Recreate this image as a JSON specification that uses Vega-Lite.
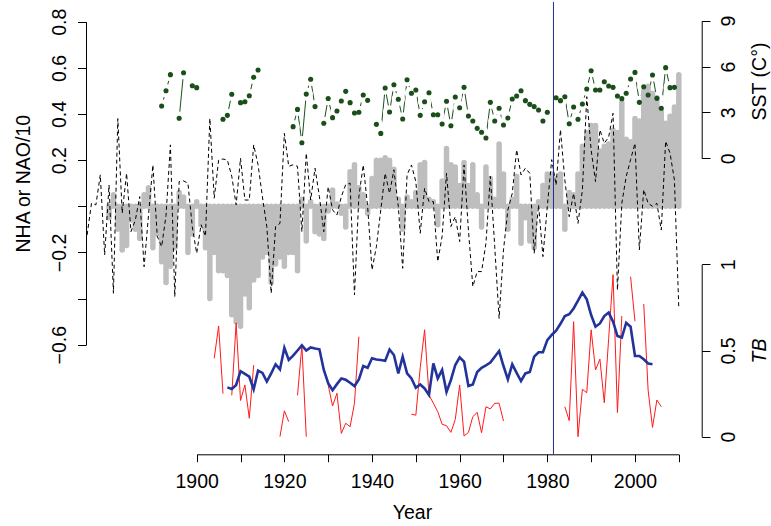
{
  "$schema": "https://vega.github.io/schema/vega-lite/v6.json",
  "width": 615.7,
  "height": 452.3,
  "autosize": {"type": "none"},
  "padding": {"left": 86, "top": 2, "right": 69.3, "bottom": 71.7},
  "background": "white",
  "config": {
    "view": {"stroke": null},
    "font": "Liberation Sans",
    "axis": {"grid": false, "domainColor": "black", "tickColor": "black", "labelColor": "black", "titleColor": "black", "labelFont": "Liberation Sans", "titleFont": "Liberation Sans", "labelFontSize": 19.5, "titleFontSize": 19.5, "titleFontWeight": "normal", "domainWidth": 1, "tickWidth": 1, "labelFlush": false, "labelOverlap": false}
  },
  "datasets": {
    "nha": [
      {"year": 1875, "nha": null, "nao": -0.124}, {"year": 1876, "nha": null, "nao": 0.013}, {"year": 1877, "nha": null, "nao": 0.006}, {"year": 1878, "nha": null, "nao": 0.136}, {"year": 1879, "nha": null, "nao": -0.211},
      {"year": 1880, "nha": -0.05, "nao": 0.092}, {"year": 1881, "nha": 0.05, "nao": -0.377}, {"year": 1882, "nha": -0.10, "nao": 0.38}, {"year": 1883, "nha": -0.19, "nao": -0.03}, {"year": 1884, "nha": -0.17, "nao": 0.143},
      {"year": 1885, "nha": -0.06, "nao": -0.11}, {"year": 1886, "nha": -0.10, "nao": -0.06}, {"year": 1887, "nha": -0.14, "nao": 0.042}, {"year": 1888, "nha": 0.05, "nao": -0.262}, {"year": 1889, "nha": 0.08, "nao": -0.04},
      {"year": 1890, "nha": -0.18, "nao": 0.179}, {"year": 1891, "nha": -0.12, "nao": -0.13}, {"year": 1892, "nha": -0.24, "nao": -0.175}, {"year": 1893, "nha": -0.33, "nao": -0.04}, {"year": 1894, "nha": -0.26, "nao": 0.266},
      {"year": 1895, "nha": -0.18, "nao": -0.392}, {"year": 1896, "nha": 0.06, "nao": 0.107}, {"year": 1897, "nha": 0.04, "nao": 0.11}, {"year": 1898, "nha": -0.20, "nao": 0.10}, {"year": 1899, "nha": -0.12, "nao": -0.09},
      {"year": 1900, "nha": 0.02, "nao": -0.204}, {"year": 1901, "nha": -0.08, "nao": -0.08}, {"year": 1902, "nha": -0.18, "nao": -0.13}, {"year": 1903, "nha": -0.40, "nao": 0.381}, {"year": 1904, "nha": -0.20, "nao": 0.035},
      {"year": 1905, "nha": -0.28, "nao": 0.20}, {"year": 1906, "nha": -0.28, "nao": 0.205}, {"year": 1907, "nha": -0.30, "nao": 0.20}, {"year": 1908, "nha": -0.47, "nao": 0.13}, {"year": 1909, "nha": -0.50, "nao": 0.006},
      {"year": 1910, "nha": -0.52, "nao": 0.208}, {"year": 1911, "nha": -0.38, "nao": 0.027}, {"year": 1912, "nha": -0.44, "nao": 0.027}, {"year": 1913, "nha": -0.32, "nao": 0.266}, {"year": 1914, "nha": -0.30, "nao": 0.18},
      {"year": 1915, "nha": -0.22, "nao": 0.04}, {"year": 1916, "nha": -0.20, "nao": -0.088}, {"year": 1917, "nha": -0.33, "nao": -0.377}, {"year": 1918, "nha": -0.25, "nao": -0.088}, {"year": 1919, "nha": -0.22, "nao": -0.074},
      {"year": 1920, "nha": -0.26, "nao": 0.316}, {"year": 1921, "nha": -0.20, "nao": 0.173}, {"year": 1922, "nha": -0.20, "nao": 0.18}, {"year": 1923, "nha": -0.28, "nao": 0.173}, {"year": 1924, "nha": 0.03, "nao": -0.11},
      {"year": 1925, "nha": -0.15, "nao": 0.23}, {"year": 1926, "nha": 0.02, "nao": 0.027}, {"year": 1927, "nha": -0.11, "nao": 0.165}, {"year": 1928, "nha": -0.12, "nao": 0.042}, {"year": 1929, "nha": -0.14, "nao": -0.11},
      {"year": 1930, "nha": -0.02, "nao": 0.085}, {"year": 1931, "nha": 0.07, "nao": -0.016}, {"year": 1932, "nha": 0.01, "nao": -0.038}, {"year": 1933, "nha": -0.03, "nao": 0.042}, {"year": 1934, "nha": -0.09, "nao": 0.094},
      {"year": 1935, "nha": 0.15, "nao": 0.10}, {"year": 1936, "nha": 0.18, "nao": -0.384}, {"year": 1937, "nha": 0.08, "nao": 0.042}, {"year": 1938, "nha": 0.05, "nao": 0.179}, {"year": 1939, "nha": -0.03, "nao": -0.001},
      {"year": 1940, "nha": 0.12, "nao": -0.276}, {"year": 1941, "nha": 0.20, "nao": -0.175}, {"year": 1942, "nha": 0.20, "nao": -0.016}, {"year": 1943, "nha": 0.21, "nao": 0.143}, {"year": 1944, "nha": 0.20, "nao": 0.056},
      {"year": 1945, "nha": 0.16, "nao": 0.158}, {"year": 1946, "nha": 0.03, "nao": 0.0}, {"year": 1947, "nha": -0.10, "nao": -0.269}, {"year": 1948, "nha": 0.04, "nao": 0.136}, {"year": 1949, "nha": 0.02, "nao": 0.179},
      {"year": 1950, "nha": 0.06, "nao": 0.107}, {"year": 1951, "nha": 0.18, "nao": -0.117}, {"year": 1952, "nha": 0.19, "nao": 0.078}, {"year": 1953, "nha": 0.03, "nao": 0.02}, {"year": 1954, "nha": 0.02, "nao": 0.02},
      {"year": 1955, "nha": -0.08, "nao": -0.24}, {"year": 1956, "nha": 0.11, "nao": -0.13}, {"year": 1957, "nha": 0.25, "nao": 0.143}, {"year": 1958, "nha": 0.18, "nao": -0.088}, {"year": 1959, "nha": 0.17, "nao": -0.045},
      {"year": 1960, "nha": 0.09, "nao": -0.153}, {"year": 1961, "nha": 0.19, "nao": 0.179}, {"year": 1962, "nha": 0.09, "nao": -0.103}, {"year": 1963, "nha": 0.18, "nao": -0.348}, {"year": 1964, "nha": 0.05, "nao": -0.283},
      {"year": 1965, "nha": -0.09, "nao": -0.283}, {"year": 1966, "nha": 0.17, "nao": -0.16}, {"year": 1967, "nha": 0.12, "nao": 0.13}, {"year": 1968, "nha": 0.03, "nao": -0.175}, {"year": 1969, "nha": 0.27, "nao": -0.486},
      {"year": 1970, "nha": 0.14, "nao": -0.189}, {"year": 1971, "nha": -0.10, "nao": -0.016}, {"year": 1972, "nha": 0.03, "nao": 0.056}, {"year": 1973, "nha": 0.13, "nao": 0.245}, {"year": 1974, "nha": -0.16, "nao": 0.136},
      {"year": 1975, "nha": -0.05, "nao": 0.165}, {"year": 1976, "nha": -0.15, "nao": 0.143}, {"year": 1977, "nha": -0.18, "nao": -0.204}, {"year": 1978, "nha": 0.02, "nao": 0.006}, {"year": 1979, "nha": 0.09, "nao": -0.218},
      {"year": 1980, "nha": 0.14, "nao": 0.0}, {"year": 1981, "nha": 0.14, "nao": 0.202}, {"year": 1982, "nha": 0.12, "nao": 0.092}, {"year": 1983, "nha": 0.14, "nao": 0.332}, {"year": 1984, "nha": -0.10, "nao": 0.114},
      {"year": 1985, "nha": 0.06, "nao": -0.045}, {"year": 1986, "nha": 0.05, "nao": 0.056}, {"year": 1987, "nha": 0.14, "nao": -0.074}, {"year": 1988, "nha": 0.26, "nao": 0.07}, {"year": 1989, "nha": 0.32, "nao": 0.475},
      {"year": 1990, "nha": 0.35, "nao": 0.243}, {"year": 1991, "nha": 0.35, "nao": 0.107}, {"year": 1992, "nha": 0.24, "nao": 0.331}, {"year": 1993, "nha": 0.26, "nao": 0.273}, {"year": 1994, "nha": 0.27, "nao": 0.30},
      {"year": 1995, "nha": 0.33, "nao": 0.403}, {"year": 1996, "nha": 0.32, "nao": -0.363}, {"year": 1997, "nha": 0.45, "nao": 0.013}, {"year": 1998, "nha": 0.29, "nao": 0.129}, {"year": 1999, "nha": 0.28, "nao": 0.202},
      {"year": 2000, "nha": 0.38, "nao": 0.273}, {"year": 2001, "nha": 0.37, "nao": -0.189}, {"year": 2002, "nha": 0.50, "nao": 0.072}, {"year": 2003, "nha": 0.52, "nao": 0.013}, {"year": 2004, "nha": 0.49, "nao": 0.0},
      {"year": 2005, "nha": 0.47, "nao": 0.013}, {"year": 2006, "nha": 0.41, "nao": -0.103}, {"year": 2007, "nha": 0.36, "nao": 0.282}, {"year": 2008, "nha": 0.39, "nao": 0.23}, {"year": 2009, "nha": 0.43, "nao": 0.114},
      {"year": 2010, "nha": 0.57, "nao": -0.442}
    ],
    "sst": [
      {"year": 1892, "sst": 3.42}, {"year": 1893, "sst": 4.42}, {"year": 1894, "sst": 5.47}, {"year": 1895, "sst": null}, {"year": 1896, "sst": 2.62}, {"year": 1897, "sst": 5.60}, {"year": 1898, "sst": null}, {"year": 1899, "sst": 4.75}, {"year": 1900, "sst": 4.62},
      {"year": 1901, "sst": null}, {"year": 1906, "sst": 2.55}, {"year": 1907, "sst": 2.81}, {"year": 1908, "sst": 4.19}, {"year": 1909, "sst": null}, {"year": 1910, "sst": 3.64}, {"year": 1911, "sst": 3.70}, {"year": 1912, "sst": 4.09}, {"year": 1913, "sst": 5.30}, {"year": 1914, "sst": 5.78},
      {"year": 1915, "sst": null}, {"year": 1922, "sst": 2.07}, {"year": 1923, "sst": 3.20}, {"year": 1924, "sst": 1.02}, {"year": 1925, "sst": 4.20}, {"year": 1926, "sst": 5.17}, {"year": 1927, "sst": 3.38}, {"year": 1928, "sst": null}, {"year": 1929, "sst": 2.29},
      {"year": 1930, "sst": 3.91}, {"year": 1931, "sst": 2.66}, {"year": 1932, "sst": 3.09}, {"year": 1933, "sst": 3.75}, {"year": 1934, "sst": 4.38}, {"year": 1935, "sst": 3.64}, {"year": 1936, "sst": 2.96}, {"year": 1937, "sst": 3.01}, {"year": 1938, "sst": 4.14}, {"year": 1939, "sst": 3.79},
      {"year": 1940, "sst": null}, {"year": 1941, "sst": 2.22}, {"year": 1942, "sst": 1.63}, {"year": 1943, "sst": 4.60}, {"year": 1944, "sst": 3.03}, {"year": 1945, "sst": 4.81}, {"year": 1946, "sst": 3.86}, {"year": 1947, "sst": 2.57}, {"year": 1948, "sst": 5.14}, {"year": 1949, "sst": 4.25},
      {"year": 1950, "sst": 4.47}, {"year": 1951, "sst": 2.81}, {"year": 1952, "sst": 3.70}, {"year": 1953, "sst": 4.29}, {"year": 1954, "sst": 2.85}, {"year": 1955, "sst": 2.85}, {"year": 1956, "sst": 2.24}, {"year": 1957, "sst": 3.73}, {"year": 1958, "sst": 2.13}, {"year": 1959, "sst": 4.01},
      {"year": 1960, "sst": 3.31}, {"year": 1961, "sst": 4.64}, {"year": 1962, "sst": 2.77}, {"year": 1963, "sst": 2.44}, {"year": 1964, "sst": 1.96}, {"year": 1965, "sst": 1.70}, {"year": 1966, "sst": 1.33}, {"year": 1967, "sst": 3.66}, {"year": 1968, "sst": 2.44}, {"year": 1969, "sst": 3.27},
      {"year": 1970, "sst": 2.18}, {"year": 1971, "sst": 2.64}, {"year": 1972, "sst": 3.88}, {"year": 1973, "sst": 4.07}, {"year": 1974, "sst": 4.42}, {"year": 1975, "sst": 3.77}, {"year": 1976, "sst": 3.53}, {"year": 1977, "sst": 3.38}, {"year": 1978, "sst": 3.16}, {"year": 1979, "sst": 2.44},
      {"year": 1980, "sst": 3.01}, {"year": 1981, "sst": null}, {"year": 1982, "sst": 3.96}, {"year": 1983, "sst": 3.77}, {"year": 1984, "sst": 4.03}, {"year": 1985, "sst": 2.26}, {"year": 1986, "sst": 3.36}, {"year": 1987, "sst": 2.55}, {"year": 1988, "sst": 3.55}, {"year": 1989, "sst": 4.53},
      {"year": 1990, "sst": 5.73}, {"year": 1991, "sst": 4.47}, {"year": 1992, "sst": 4.47}, {"year": 1993, "sst": 5.01}, {"year": 1994, "sst": 4.73}, {"year": 1995, "sst": 4.64}, {"year": 1996, "sst": 4.07}, {"year": 1997, "sst": 3.90}, {"year": 1998, "sst": 4.25}, {"year": 1999, "sst": 5.19},
      {"year": 2000, "sst": 5.62}, {"year": 2001, "sst": 3.66}, {"year": 2002, "sst": 4.68}, {"year": 2003, "sst": 4.14}, {"year": 2004, "sst": 5.45}, {"year": 2005, "sst": 3.92}, {"year": 2006, "sst": 3.27}, {"year": 2007, "sst": 5.93}, {"year": 2008, "sst": 4.62}, {"year": 2009, "sst": 4.64}
    ],
    "tb": [
      {"year": 1904, "tb": 0.455, "tbs": null}, {"year": 1905, "tb": 0.642, "tbs": null}, {"year": 1906, "tb": 0.25, "tbs": null}, {"year": 1907, "tb": null, "tbs": 0.286}, {"year": 1908, "tb": 0.24, "tbs": 0.277}, {"year": 1909, "tb": 0.66, "tbs": 0.30},
      {"year": 1910, "tb": 0.21, "tbs": 0.38}, {"year": 1911, "tb": 0.30, "tbs": 0.364}, {"year": 1912, "tb": 0.107, "tbs": 0.348}, {"year": 1913, "tb": 0.415, "tbs": 0.275}, {"year": 1914, "tb": null, "tbs": 0.383}, {"year": 1915, "tb": null, "tbs": 0.37},
      {"year": 1916, "tb": null, "tbs": 0.32}, {"year": 1917, "tb": null, "tbs": 0.367}, {"year": 1918, "tb": null, "tbs": 0.42}, {"year": 1919, "tb": 0.0, "tbs": 0.39}, {"year": 1920, "tb": 0.15, "tbs": 0.516}, {"year": 1921, "tb": 0.087, "tbs": 0.445},
      {"year": 1922, "tb": null, "tbs": 0.47}, {"year": 1923, "tb": 0.24, "tbs": 0.50}, {"year": 1924, "tb": 0.53, "tbs": 0.53}, {"year": 1925, "tb": 0.0, "tbs": 0.50}, {"year": 1926, "tb": null, "tbs": 0.518}, {"year": 1927, "tb": null, "tbs": 0.512},
      {"year": 1928, "tb": null, "tbs": 0.507}, {"year": 1929, "tb": 0.40, "tbs": 0.387}, {"year": 1930, "tb": 0.30, "tbs": 0.31}, {"year": 1931, "tb": 0.178, "tbs": 0.27}, {"year": 1932, "tb": 0.252, "tbs": 0.305}, {"year": 1933, "tb": 0.019, "tbs": 0.338},
      {"year": 1934, "tb": 0.078, "tbs": 0.33}, {"year": 1935, "tb": 0.058, "tbs": 0.313}, {"year": 1936, "tb": 0.194, "tbs": 0.294}, {"year": 1937, "tb": 0.58, "tbs": 0.332}, {"year": 1938, "tb": null, "tbs": 0.41}, {"year": 1939, "tb": null, "tbs": 0.40},
      {"year": 1940, "tb": null, "tbs": 0.455}, {"year": 1941, "tb": null, "tbs": 0.448}, {"year": 1942, "tb": null, "tbs": 0.445}, {"year": 1943, "tb": null, "tbs": 0.44}, {"year": 1944, "tb": null, "tbs": 0.506}, {"year": 1945, "tb": null, "tbs": 0.474},
      {"year": 1946, "tb": null, "tbs": 0.367}, {"year": 1947, "tb": null, "tbs": 0.464}, {"year": 1948, "tb": null, "tbs": 0.367}, {"year": 1949, "tb": 0.13, "tbs": 0.338}, {"year": 1950, "tb": 0.125, "tbs": 0.284}, {"year": 1951, "tb": 0.40, "tbs": 0.303},
      {"year": 1952, "tb": 0.62, "tbs": 0.28}, {"year": 1953, "tb": 0.242, "tbs": 0.242}, {"year": 1954, "tb": 0.194, "tbs": 0.425}, {"year": 1955, "tb": 0.145, "tbs": 0.338}, {"year": 1956, "tb": 0.072, "tbs": 0.387}, {"year": 1957, "tb": 0.064, "tbs": 0.26},
      {"year": 1958, "tb": 0.025, "tbs": 0.329}, {"year": 1959, "tb": 0.10, "tbs": 0.416}, {"year": 1960, "tb": 0.30, "tbs": 0.46}, {"year": 1961, "tb": 0.004, "tbs": 0.435}, {"year": 1962, "tb": 0.025, "tbs": 0.294}, {"year": 1963, "tb": 0.116, "tbs": 0.303},
      {"year": 1964, "tb": 0.141, "tbs": 0.375}, {"year": 1965, "tb": 0.023, "tbs": 0.40}, {"year": 1966, "tb": 0.174, "tbs": 0.414}, {"year": 1967, "tb": 0.161, "tbs": 0.43}, {"year": 1968, "tb": 0.194, "tbs": 0.464}, {"year": 1969, "tb": 0.194, "tbs": 0.497},
      {"year": 1970, "tb": 0.091, "tbs": 0.41}, {"year": 1971, "tb": null, "tbs": 0.333}, {"year": 1972, "tb": null, "tbs": 0.42}, {"year": 1973, "tb": null, "tbs": 0.37}, {"year": 1974, "tb": null, "tbs": 0.323}, {"year": 1975, "tb": null, "tbs": 0.367},
      {"year": 1976, "tb": null, "tbs": 0.375}, {"year": 1977, "tb": null, "tbs": 0.464}, {"year": 1978, "tb": null, "tbs": 0.49}, {"year": 1979, "tb": null, "tbs": 0.49}, {"year": 1980, "tb": null, "tbs": 0.56}, {"year": 1981, "tb": null, "tbs": 0.59},
      {"year": 1982, "tb": null, "tbs": 0.615}, {"year": 1983, "tb": null, "tbs": 0.655}, {"year": 1984, "tb": 0.174, "tbs": 0.70}, {"year": 1985, "tb": 0.093, "tbs": 0.71}, {"year": 1986, "tb": 0.667, "tbs": 0.744}, {"year": 1987, "tb": 0.0, "tbs": 0.79},
      {"year": 1988, "tb": 0.275, "tbs": 0.836}, {"year": 1989, "tb": 0.255, "tbs": 0.797}, {"year": 1990, "tb": 0.62, "tbs": 0.706}, {"year": 1991, "tb": 0.387, "tbs": 0.638}, {"year": 1992, "tb": 0.45, "tbs": 0.657}, {"year": 1993, "tb": 0.197, "tbs": 0.70},
      {"year": 1994, "tb": 0.57, "tbs": 0.72}, {"year": 1995, "tb": 0.94, "tbs": 0.667}, {"year": 1996, "tb": 0.14, "tbs": 0.584}, {"year": 1997, "tb": 0.70, "tbs": 0.575}, {"year": 1998, "tb": null, "tbs": 0.661}, {"year": 1999, "tb": 0.928, "tbs": 0.638},
      {"year": 2000, "tb": 0.67, "tbs": 0.468}, {"year": 2001, "tb": null, "tbs": 0.468}, {"year": 2002, "tb": 0.77, "tbs": 0.449}, {"year": 2003, "tb": 0.27, "tbs": 0.425}, {"year": 2004, "tb": 0.054, "tbs": 0.42}, {"year": 2005, "tb": 0.213, "tbs": null},
      {"year": 2006, "tb": 0.174, "tbs": null}
    ]
  },
  "layer": [
    {
      "data": {"name": "sst"},
      "layer": [
        {
          "mark": {"type": "line", "color": "#1a4f1a", "strokeWidth": 1, "invalid": "break-paths-filter-domains"},
          "encoding": {
            "x": {"field": "year", "type": "quantitative", "scale": {"domain": [1900, 2010], "range": [110.7, 592.8], "nice": false, "zero": false},
                  "axis": {"orient": "bottom", "values": [1900, 1910, 1920, 1930, 1940, 1950, 1960, 1970, 1980, 1990, 2000, 2010], "format": "d", "labelExpr": "datum.value % 20 == 0 ? datum.label : ''", "tickSize": 7.4, "labelPadding": 11, "title": "Year", "titleX": 326, "titleY": 57.7, "titleAlign": "center", "titleBaseline": "middle"}},
            "y": {"field": "sst", "type": "quantitative", "scale": {"domain": [0, 9], "range": [156.3, 18.7], "nice": false, "zero": false},
                  "axis": {"orient": "right", "values": [0, 3, 6, 9], "format": "d", "tickSize": 8.3, "labelAngle": -90, "labelAlign": "center", "labelBaseline": "middle", "labelPadding": 18, "title": "SST (C°)", "titleAngle": -90, "titleX": 57.8, "titleY": 79, "titleAlign": "center", "titleBaseline": "middle"}}
          }
        },
        {
          "mark": {"type": "point", "filled": true, "shape": "circle", "color": "white", "opacity": 1, "size": 177, "strokeWidth": 0},
          "encoding": {
            "x": {"field": "year", "type": "quantitative", "scale": {"domain": [1900, 2010], "range": [110.7, 592.8], "nice": false, "zero": false}},
            "y": {"field": "sst", "type": "quantitative", "scale": {"domain": [0, 9], "range": [156.3, 18.7], "nice": false, "zero": false}}
          }
        }
      ]
    },
    {
      "layer": [
        {
          "data": {"values": [{}]},
          "mark": {"type": "rule", "color": "#cccccc", "strokeWidth": 1},
          "encoding": {
            "x": {"datum": 1880, "type": "quantitative", "scale": {"domain": [1900, 2010], "range": [110.7, 592.8], "nice": false, "zero": false}},
            "x2": {"datum": 2010},
            "y": {"datum": 0, "type": "quantitative", "scale": {"domain": [-0.6, 0.8], "range": [342.7, 19.7], "nice": false, "zero": false}}
          }
        },
        {
          "data": {"name": "nha"},
          "mark": {"type": "rule", "color": "#BEBEBE", "strokeWidth": 5.5, "strokeCap": "round"},
          "encoding": {
            "x": {"field": "year", "type": "quantitative", "scale": {"domain": [1900, 2010], "range": [110.7, 592.8], "nice": false, "zero": false}},
            "y": {"field": "nha", "type": "quantitative", "scale": {"domain": [-0.6, 0.8], "range": [342.7, 19.7], "nice": false, "zero": false},
                  "axis": {"orient": "left", "values": [-0.6, -0.4, -0.2, 0, 0.2, 0.4, 0.6, 0.8], "format": ".1f", "labelExpr": "(abs(datum.value) < 0.001 || abs(datum.value + 0.4) < 0.001) ? '' : datum.label", "tickSize": 8.5, "labelAngle": -90, "labelAlign": "center", "labelBaseline": "middle", "labelPadding": 18.5, "title": "NHA or NAO/10", "titleAngle": -90, "titleX": -63, "titleY": 181.2, "titleAlign": "center", "titleBaseline": "middle"}},
            "y2": {"datum": 0}
          }
        },
        {
          "data": {"name": "nha"},
          "mark": {"type": "line", "color": "black", "strokeWidth": 1, "strokeDash": [4, 3]},
          "encoding": {
            "x": {"field": "year", "type": "quantitative", "scale": {"domain": [1900, 2010], "range": [110.7, 592.8], "nice": false, "zero": false}},
            "y": {"field": "nao", "type": "quantitative", "scale": {"domain": [-0.6, 0.8], "range": [342.7, 19.7], "nice": false, "zero": false}}
          }
        }
      ]
    },
    {
      "data": {"name": "tb"},
      "layer": [
        {
          "mark": {"type": "line", "color": "#ff1a1a", "strokeWidth": 1, "invalid": "break-paths-filter-domains"},
          "encoding": {
            "x": {"field": "year", "type": "quantitative", "scale": {"domain": [1900, 2010], "range": [110.7, 592.8], "nice": false, "zero": false}},
            "y": {"field": "tb", "type": "quantitative", "scale": {"domain": [0, 1], "range": [434.7, 262.3], "nice": false, "zero": false},
                  "axis": {"orient": "right", "values": [0, 0.5, 1], "format": "~g", "tickSize": 8.3, "labelAngle": -90, "labelAlign": "center", "labelBaseline": "middle", "labelPadding": 18, "title": "TB", "titleFontStyle": "italic", "titleAngle": -90, "titleX": 57.8, "titleY": 348.5, "titleAlign": "center", "titleBaseline": "middle"}}
          }
        },
        {
          "mark": {"type": "line", "color": "#22339b", "strokeWidth": 2.6, "invalid": "break-paths-filter-domains"},
          "encoding": {
            "x": {"field": "year", "type": "quantitative", "scale": {"domain": [1900, 2010], "range": [110.7, 592.8], "nice": false, "zero": false}},
            "y": {"field": "tbs", "type": "quantitative", "scale": {"domain": [0, 1], "range": [434.7, 262.3], "nice": false, "zero": false}}
          }
        }
      ]
    },
    {
      "data": {"name": "sst"},
      "mark": {"type": "point", "filled": true, "shape": "circle", "color": "#1a4f1a", "opacity": 1, "size": 26},
      "encoding": {
        "x": {"field": "year", "type": "quantitative", "scale": {"domain": [1900, 2010], "range": [110.7, 592.8], "nice": false, "zero": false}},
        "y": {"field": "sst", "type": "quantitative", "scale": {"domain": [0, 9], "range": [156.3, 18.7], "nice": false, "zero": false}, "axis": null}
      }
    },
    {
      "data": {"values": [{}]},
      "mark": {"type": "rule", "color": "#1f2d86", "strokeWidth": 1},
      "encoding": {
        "x": {"datum": 1981.4, "type": "quantitative", "scale": {"domain": [1900, 2010], "range": [110.7, 592.8], "nice": false, "zero": false}}
      }
    }
  ],
  "resolve": {"scale": {"y": "independent"}, "axis": {"y": "independent"}}
}
